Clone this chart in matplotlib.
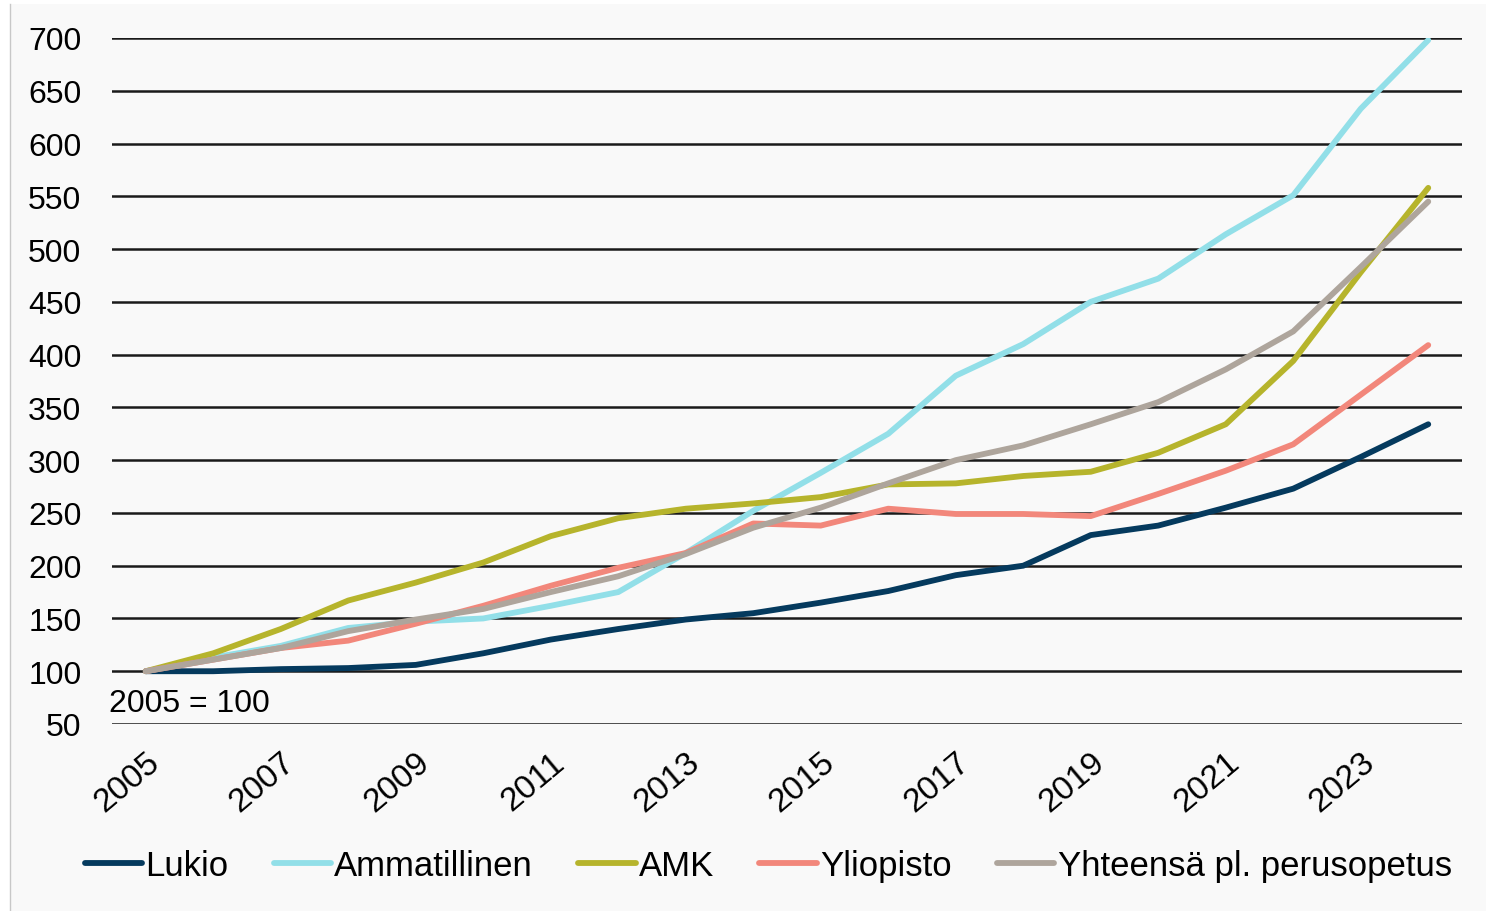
import matplotlib.pyplot as plt
from matplotlib.patches import Rectangle
from matplotlib.lines import Line2D

plt.rcParams['font.family'] = ['Liberation Sans', 'DejaVu Sans']

# data (2005 = 100)
years = list(range(2005, 2025))
lukio = [100, 100, 102, 103, 106, 117, 130, 140, 149, 155, 165, 176, 191, 200, 229, 238, 255, 273, 303, 334]
ammatillinen = [100, 113, 124, 141, 147, 150, 162, 175, 212, 252, 288, 325, 380, 410, 450, 472, 514, 551, 633, 698]
amk = [100, 117, 140, 167, 184, 203, 228, 245, 254, 259, 265, 277, 278, 285, 289, 307, 334, 394, 478, 558]
yliopisto = [100, 111, 122, 129, 145, 162, 181, 198, 212, 240, 238, 254, 249, 249, 247, 268, 290, 315, 362, 409]
yhteensa = [100, 111, 122, 138, 149, 159, 175, 190, 211, 236, 255, 278, 300, 314, 334, 355, 386, 422, 483, 545]

series = [
    ('Lukio', lukio, '#053a5e'),
    ('Ammatillinen', ammatillinen, '#92dfe8'),
    ('AMK', amk, '#b6b42c'),
    ('Yliopisto', yliopisto, '#f2877b'),
    ('Yhteensä pl. perusopetus', yhteensa, '#aea59c'),
]
yticks = list(range(50, 701, 50))
xticks = list(range(2005, 2024, 2))

fig = plt.figure(figsize=(14.86, 9.12), dpi=100)
fig.patch.set_facecolor('white')
# light background panel, thin grey line on the left
fig.patches.append(Rectangle((10 / 1486, 0), 1, 1 - 5 / 912, transform=fig.transFigure,
                             facecolor='#f9f9f9', edgecolor='none', zorder=-10))
fig.lines.append(Line2D([10 / 1486, 10 / 1486], [0, 1 - 5 / 912], transform=fig.transFigure,
                        color='#c8c8c8', lw=1))

ax = fig.add_axes([112 / 1486, 1 - 725 / 912, (1462 - 112) / 1486, (725 - 39) / 912])
ax.set_facecolor('none')

for name, vals, col in series:
    ax.plot(years, vals, color=col, lw=4.2, solid_capstyle='round', label=name, zorder=3)

ax.set_ylim(50, 700)
ax.set_xlim(2004.5, 2024.5)
ax.set_yticks(yticks)
ax.set_xticks(xticks)
ax.set_xticklabels([str(x) for x in xticks], rotation=40, ha='right', rotation_mode='anchor',
                   fontsize=24)
ax.yaxis.grid(True, color='#1a1a1a', lw=1.8)
ax.set_axisbelow(True)
ax.tick_params(axis='y', length=0, labelsize=23, colors='black', pad=22)
ax.tick_params(axis='x', length=0, colors='black', pad=16)
for s in ax.spines.values():
    s.set_visible(False)

ax.text(2004.45, 70, '2005 = 100', fontsize=23, va='center', ha='left')

leg = fig.legend(loc='center', bbox_to_anchor=(0.517, 1 - 867 / 912), ncol=5, frameon=False,
                 fontsize=25, handlelength=1.65, handletextpad=0.1, columnspacing=1.3)

fig.savefig('out.png', dpi=100, facecolor=fig.get_facecolor())
